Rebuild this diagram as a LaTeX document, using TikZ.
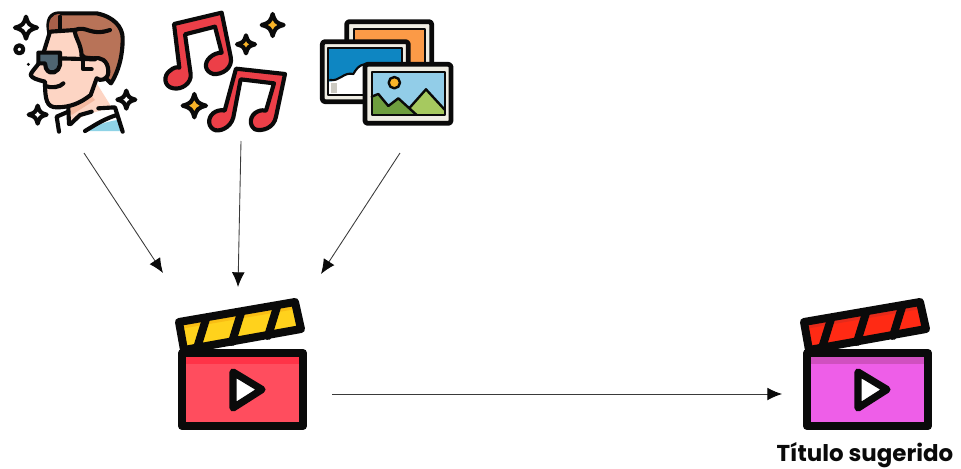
\documentclass[tikz,border=0pt]{standalone}
\usepackage{fontspec}
\setmainfont{Poppins}
\usetikzlibrary{arrows.meta}
\definecolor{ink}{HTML}{0A0A0A}
\definecolor{linegray}{HTML}{3A3A3A}
\definecolor{gold}{HTML}{F9B428}
\definecolor{notered}{HTML}{EC3F48}
\definecolor{hairb}{HTML}{B87358}
\definecolor{hairl}{HTML}{A8604A}
\definecolor{skin}{HTML}{FDD5C4}
\definecolor{skind}{HTML}{F4B9A0}
\definecolor{lens}{HTML}{4E6470}
\definecolor{shirtb}{HTML}{8FD3E6}
\definecolor{frameg}{HTML}{EFEDE3}
\definecolor{orangep}{HTML}{FB9A47}
\definecolor{bluep}{HTML}{0E86C2}
\definecolor{skyp}{HTML}{92CDE8}
\definecolor{greend}{HTML}{6E9E3E}
\definecolor{greenl}{HTML}{A6C95F}
\definecolor{slateyellow}{HTML}{FFD21C}
\definecolor{slateyelld}{HTML}{F9BE14}
\definecolor{bodyred}{HTML}{FF4D5E}
\definecolor{bandred}{HTML}{FF3347}
\definecolor{slatered}{HTML}{FF2A14}
\definecolor{slateredd}{HTML}{E52A1A}
\definecolor{bodypink}{HTML}{EE5EE8}
\definecolor{bandpink}{HTML}{D050C0}
\tikzset{
  outl/.style={draw=ink,line width=3.1pt,line join=round,line cap=round},
  thin outl/.style={draw=ink,line width=2.3pt,line join=round,line cap=round},
  frame outl/.style={draw=ink,line width=3.6pt,line join=round,line cap=round,rounded corners=2pt},
  thick outl/.style={draw=ink,line width=6pt,line join=round,line cap=round},
  conn/.style={draw=linegray,line width=0.65pt,-{Latex[length=11pt,width=9.5pt,color=ink]}},
  label/.style={font=\bfseries\fontsize{17.2pt}{20pt}\selectfont,text=ink,inner sep=0pt,anchor=center}
}
\newcommand{\sparkle}[4]{% x y r fill
  \path[outl,fill=#4] (#1,#2-#3) .. controls (#1+0.2*#3,#2-0.3*#3) and (#1+0.3*#3,#2-0.2*#3) .. (#1+#3,#2)
   .. controls (#1+0.3*#3,#2+0.2*#3) and (#1+0.2*#3,#2+0.3*#3) .. (#1,#2+#3)
   .. controls (#1-0.2*#3,#2+0.3*#3) and (#1-0.3*#3,#2+0.2*#3) .. (#1-#3,#2)
   .. controls (#1-0.3*#3,#2-0.2*#3) and (#1-0.2*#3,#2-0.3*#3) .. cycle;}
\newcommand{\clapperboard}[5]{%
 \begin{scope}[xshift=#1*0.75pt]
  \path[fill=#2] (179,322) -- (295,302) -- (301,329) -- (184,350) -- cycle;
  \path[fill=#3] (179,322) -- (295,302) -- (296,309) -- (180,329) -- cycle;
  \draw[thick outl] (206,319) -- (197,348);
  \draw[thick outl] (241,313) -- (232,342);
  \draw[thick outl] (277,307) -- (268,336);
  \draw[thick outl] (179,322) -- (295,302) -- (301,329) -- (184,350) -- cycle;
  \path[fill=#4] (182,353) rectangle (303,426);
  \path[fill=#5] (182,353) rectangle (303,364);
  \draw[thick outl] (182,353) rectangle (303,426);
  \draw[thick outl,line width=5.4pt,fill=white] (233,372) -- (233,408) -- (262,389.5) -- cycle;
 \end{scope}}
\begin{document}
\begin{tikzpicture}[x=0.75pt,y=-0.75pt]
\useasboundingbox[fill=white] (0,0) rectangle (961,468);

% ---------- person ----------
\begin{scope}[x=0.25pt,y=-0.25pt]
 % shirt
 \path[fill=white] (205,335) -- (170,350) -- (177,395) -- (365,395) -- (345,325) -- (290,320) -- cycle;
 \path[fill=shirtb] (255,393) .. controls (290,375) and (320,365) .. (352,360) -- (366,393) -- cycle;
 \draw[outl] (255,393) .. controls (285,375) and (310,358) .. (350,345);
 \draw[outl] (205,335) -- (170,350) -- (177,395);
 % neck
 \path[fill=skin] (205,320) -- (290,250) -- (335,322) -- (255,345) -- (212,372) -- cycle;
 \path[fill=skind] (205,325) -- (272,285) -- (285,300) -- (215,345) -- cycle;
 \draw[outl] (205,325) -- (207,372);
 \draw[outl] (212,372) -- (240,345) -- (275,335);
 \draw[outl] (295,325) -- (345,322) -- (368,395);
 % hair
 \path[outl,fill=hairb] (148,100) .. controls (140,60) and (150,40) .. (180,40) -- (290,40)
   .. controls (340,50) and (368,80) .. (368,115)
   .. controls (368,170) and (355,215) .. (333,250) -- (230,150) -- cycle;
 \path[fill=hairl] (148,95) .. controls (143,60) and (155,42) .. (180,42) -- (182,85) -- cycle;
 % face
 \path[outl,fill=skin] (150,95) -- (225,90)
   .. controls (222,110) and (245,130) .. (245,172)
   -- (280,175) .. controls (300,170) and (325,180) .. (325,215)
   .. controls (325,240) and (300,245) .. (290,235)
   -- (272,285) .. controls (240,310) and (210,322) .. (170,322)
   .. controls (140,322) and (135,300) .. (135,245)
   .. controls (115,240) and (95,235) .. (92,225)
   .. controls (95,210) and (125,190) .. (130,160) -- cycle;
 \draw[outl] (135,258) .. controls (155,265) and (180,262) .. (190,250);
 \draw[outl] (180,90) -- (180,50);
 \draw[outl] (225,90) .. controls (260,75) and (270,110) .. (330,90);
 \draw[outl] (250,185) -- (250,208) -- (275,208);
 % glasses
 \draw[outl] (175,175) -- (285,178);
 \path[outl,fill=lens] (115,158) -- (180,158) -- (180,195) .. controls (178,215) and (150,230) .. (138,205) -- (135,190) -- (115,190) -- cycle;
 % sparkles
 \sparkle{78}{83}{33}{white}
 \sparkle{113}{344}{27}{white}
 \sparkle{379}{299}{27}{white}
 \draw[outl] (58,148) circle[radius=12];
 \fill[ink] (85,193) circle[radius=5];
\end{scope}

% ---------- music ----------
\begin{scope}[x=0.25pt,y=-0.25pt,shift={(150*0.75pt,0)}]
 \path[outl,fill=notered] (72,72) -- (215,38) -- (242,170)
   .. controls (250,205) and (215,225) .. (190,222)
   .. controls (165,215) and (160,190) .. (180,172)
   .. controls (190,162) and (205,158) .. (215,158)
   -- (195,80) -- (105,103) -- (122,222)
   .. controls (125,250) and (95,270) .. (70,265)
   .. controls (40,260) and (40,225) .. (60,212)
   .. controls (70,203) and (80,200) .. (88,203) -- cycle;
 \path[outl,fill=notered] (258,206) -- (405,222) -- (378,350)
   .. controls (372,385) and (335,395) .. (315,388)
   .. controls (295,375) and (300,345) .. (322,335)
   .. controls (332,330) and (342,330) .. (348,332)
   -- (372,250) -- (272,238) -- (250,352)
   .. controls (242,385) and (205,398) .. (190,388)
   .. controls (170,375) and (175,345) .. (197,335)
   .. controls (207,330) and (218,330) .. (224,332) -- cycle;
 \sparkle{368}{75}{33}{gold}
 \sparkle{288}{133}{27}{gold}
 \sparkle{133}{317}{35}{gold}
\end{scope}

% ---------- images ----------
\begin{scope}[x=0.25pt,y=-0.25pt,shift={(150*0.75pt,0)}]
 \path[fill=frameg] (590,65) rectangle (845,190);
 \path[fill=orangep] (612,88) rectangle (825,195);
 \draw[frame outl] (590,125) -- (590,65) -- (845,65) -- (845,190);
 \draw[outl,line width=1.6pt] (612,125) -- (612,88) -- (825,88) -- (825,190);
 \path[fill=frameg] (517,125) rectangle (775,305);
 \path[fill=bluep] (535,145) rectangle (755,285);
 \path[fill=white] (535,245) .. controls (570,245) and (580,215) .. (610,222) .. controls (625,195) and (640,190) .. (660,192) -- (660,285) -- (535,285) -- cycle;
 \path[fill=frameg!85!black] (542,248) rectangle (562,280);
 \draw[frame outl] (650,305) -- (517,305) -- (517,125) -- (775,125) -- (775,190);
 \draw[outl,line width=1.6pt] (650,285) -- (535,285) -- (535,145) -- (755,145) -- (755,190);
 \draw[thin outl,line width=1.6pt] (540,240) .. controls (570,245) and (580,215) .. (610,222) .. controls (625,195) and (640,190) .. (660,192);
 \path[fill=frameg] (645,193) rectangle (903,370);
 \path[fill=skyp] (665,215) rectangle (885,345);
 \path[fill=greend] (665,345) -- (665,285) -- (695,290) -- (715,320) -- (745,295) -- (780,330) -- (800,345) -- cycle;
 \path[fill=greenl] (780,325) -- (828,268) -- (885,325) -- (885,345) -- (800,345) -- cycle;
 \draw[thin outl,line width=1.8pt] (665,290) -- (685,282) -- (715,318) -- (745,295) -- (800,345);
 \draw[thin outl,line width=1.8pt] (780,322) -- (828,268) -- (885,330);
 \draw[thin outl,line width=1.8pt,fill=gold] (733,248) circle[radius=17];
 \draw[frame outl] (645,193) rectangle (903,370);
 \draw[outl,line width=1.6pt] (665,215) rectangle (885,345);
\end{scope}

% ---------- clapperboards ----------
\clapperboard{0}{slateyellow}{slateyelld}{bodyred}{bandred}
\clapperboard{625}{slatered}{slateredd}{bodypink}{bandpink}

% ---------- connectors ----------
\coordinate (personout) at (84,153);
\coordinate (musicout) at (241,141);
\coordinate (imagesout) at (400,153);
\coordinate (clapaleft) at (163,273);
\coordinate (clapatop) at (238,287);
\coordinate (claparight) at (321,274);
\coordinate (clapaout) at (332,394);
\coordinate (clapbin) at (782,394);
\draw[conn] (personout) -- (clapaleft);
\draw[conn] (musicout) -- (clapatop);
\draw[conn] (imagesout) -- (claparight);
\draw[conn] (clapaout) -- (clapbin);

\node[label] (titulo) at (865,455) {Título sugerido};
\end{tikzpicture}
\end{document}
